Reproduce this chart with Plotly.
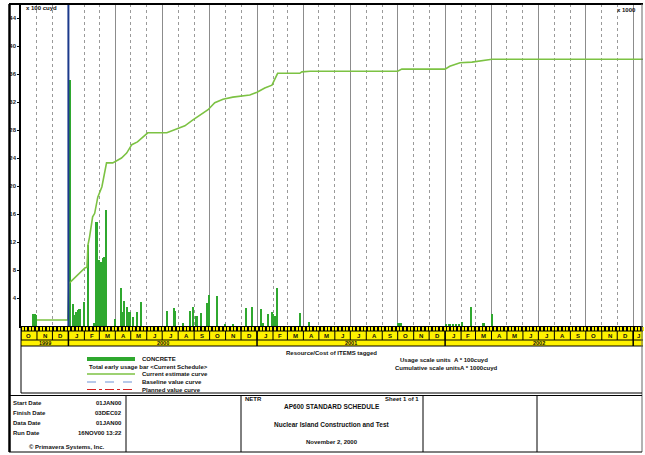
import plotly.graph_objects as go
import pandas as pd

# ---------------- data ----------------
bar_dates = ["1999-10-24", "1999-10-26", "1999-10-28", "1999-10-30",
             "2000-01-05", "2000-01-11", "2000-01-15", "2000-01-17", "2000-01-21", "2000-01-23", "2000-01-31",
             "2000-02-08", "2000-02-21", "2000-02-25", "2000-02-29", "2000-03-04", "2000-03-08", "2000-03-10",
             "2000-03-14", "2000-03-31",
             "2000-04-12", "2000-04-16", "2000-04-19", "2000-04-25", "2000-04-29", "2000-05-05", "2000-05-13",
             "2000-05-22",
             "2000-07-10", "2000-07-25", "2000-07-27", "2000-08-10", "2000-08-24", "2000-08-30", "2000-09-06",
             "2000-09-14", "2000-09-26",
             "2000-10-01", "2000-10-16", "2000-10-31", "2000-11-15", "2000-12-12", "2000-12-22",
             "2001-01-10", "2001-01-14", "2001-01-22", "2001-01-30", "2001-02-01", "2001-02-05", "2001-02-09",
             "2001-03-25", "2001-04-12",
             "2001-10-03", "2001-10-07",
             "2002-01-04", "2002-01-10", "2002-01-16", "2002-01-22", "2002-01-28", "2002-02-03", "2002-02-20",
             "2002-03-17", "2002-04-02"]
bar_values = [1.7, 1.5, 1.7, 1.6,
              35.1, 3.1, 1.6, 2.0, 2.3, 2.4, 3.4,
              11.6, 0.5, 14.9, 9.4, 9.1, 9.7, 9.9, 16.6, 1.0,
              5.4, 2.0, 3.6, 2.7, 2.0, 1.3, 2.0, 3.4,
              2.2, 2.6, 2.2, 0.5, 2.2, 2.7, 1.4, 1.8, 3.3,
              4.4, 4.3, 0.2, 0.3, 2.6, 2.7,
              2.4, 0.4, 1.7, 2.0, 1.7, 1.5, 5.4, 1.9, 0.6,
              0.4, 0.4,
              0.3, 0.3, 0.3, 0.3, 0.3, 0.6, 2.7, 0.5, 1.7]

cum_dates = ["1999-11-01", "1999-12-31", "2000-01-02", "2000-02-02", "2000-02-06", "2000-02-08", "2000-02-11",
             "2000-02-17", "2000-02-21", "2000-02-27", "2000-03-06", "2000-03-11", "2000-03-15", "2000-03-27",
             "2000-04-13", "2000-04-23", "2000-05-03", "2000-05-14", "2000-05-24", "2000-06-03", "2000-07-10",
             "2000-07-29", "2000-08-14", "2000-08-29", "2000-09-12", "2000-09-28", "2000-10-11", "2000-10-27",
             "2000-11-15", "2000-12-18", "2001-01-01", "2001-01-16", "2001-01-30", "2001-02-10", "2001-03-25",
             "2001-03-29", "2001-04-14", "2001-10-01", "2001-10-09", "2002-01-01", "2002-01-10", "2002-01-30",
             "2002-02-22", "2002-04-02", "2003-01-20"]
cum_values = [0.86, 0.86, 6.1, 8.3, 8.4, 11.6, 12.7,
              15.6, 16.1, 18.4, 19.9, 21.9, 23.3, 23.3,
              24.0, 24.7, 25.9, 26.3, 27.0, 27.6, 27.6,
              28.1, 28.6, 29.4, 30.1, 30.9, 31.9, 32.4,
              32.7, 33.0, 33.4, 34.0, 34.4, 36.1, 36.1,
              36.3, 36.4, 36.4, 36.7, 36.7, 37.1, 37.6,
              37.7, 38.1, 38.1]

y_ticks = [4, 8, 12, 16, 20, 24, 28, 32, 36, 40, 44]
month_letters = ["J", "F", "M", "A", "M", "J", "J", "A", "S", "O", "N", "D"]
x_start, x_end = "1999-10-01", "2003-01-20"
data_date = "2000-01-01"

info_labels = ["Start Date", "Finish Date", "Data Date", "Run Date"]
info_values = ["01JAN00", "03DEC02", "01JAN00", "16NOV00 13:22"]
legend_items = ["CONCRETE", "Total early usage bar &lt;Current Schedule&gt;", "Current estimate curve",
                "Baseline value curve", "Planned value curve"]

# ---------------- helpers ----------------
W, H = 645, 455
FONT = "Liberation Sans"


def px(x):
    return x / W


def py(y):
    return 1 - y / H


ann = []
shapes = []


def txt(x, y, s, size=6, anchor="left", color="#111"):
    ann.append(dict(x=px(x), y=py(y), xref="paper", yref="paper", text=s, showarrow=False,
                    xanchor=anchor, yanchor="middle",
                    font=dict(family=FONT, size=size, color=color, weight="bold")))


def hline(x0, x1, y, color="black", width=1, dash="solid"):
    shapes.append(dict(type="line", xref="paper", yref="paper", x0=px(x0), x1=px(x1), y0=py(y), y1=py(y),
                       line=dict(color=color, width=width, dash=dash)))


def vline(x, y0, y1, color="black", width=1):
    shapes.append(dict(type="line", xref="paper", yref="paper", x0=px(x), x1=px(x), y0=py(y0), y1=py(y1),
                       line=dict(color=color, width=width)))


# ---------------- traces ----------------
fig = go.Figure()
fig.add_trace(go.Bar(x=bar_dates, y=bar_values, width=3 * 86400000, marker=dict(color="#2fa82f", line_width=0),
                     xaxis="x", yaxis="y", showlegend=False))
fig.add_trace(go.Scatter(x=cum_dates, y=cum_values, mode="lines", line=dict(color="#7cc243", width=1.6),
                         xaxis="x2", yaxis="y2", showlegend=False))

# ---------------- band (timescale) ----------------
plot_l, plot_r = 21, 643
shapes.append(dict(type="rect", xref="paper", yref="paper", x0=px(plot_l), x1=px(plot_r), y0=py(331), y1=py(326),
                   fillcolor="black", line_width=0, layer="below"))
shapes.append(dict(type="rect", xref="paper", yref="paper", x0=px(plot_l), x1=px(plot_r), y0=py(346), y1=py(331),
                   fillcolor="#fff200", line_width=0, layer="below"))
hline(plot_l, plot_r, 331)
hline(plot_l, plot_r, 340)
hline(plot_l, plot_r, 346)

months = pd.date_range("1999-10-01", "2003-01-01", freq="MS")
end_ts = pd.Timestamp(x_end)
for m in months:
    nxt = m + pd.offsets.MonthBegin(1)
    stop = min(nxt, end_ts)
    mid = m + (stop - m) / 2
    shapes.append(dict(type="line", xref="x", yref="paper", x0=m, x1=m, y0=py(340), y1=py(331),
                       line=dict(color="black", width=1)))
    ann.append(dict(x=mid, y=py(335.7), xref="x", yref="paper", text=month_letters[m.month - 1],
                    showarrow=False, xanchor="center", yanchor="middle",
                    font=dict(family=FONT, size=6, color="#111", weight="bold")))
for yr in [1999, 2000, 2001, 2002]:
    a = max(pd.Timestamp(f"{yr}-01-01"), pd.Timestamp(x_start))
    b = min(pd.Timestamp(f"{yr + 1}-01-01"), end_ts)
    ann.append(dict(x=a + (b - a) / 2, y=py(343.2), xref="x", yref="paper", text=str(yr), showarrow=False,
                    xanchor="center", yanchor="middle",
                    font=dict(family=FONT, size=5.5, color="#111", weight="bold")))
for yr in [2000, 2001, 2002, 2003]:
    d = pd.Timestamp(f"{yr}-01-01")
    shapes.append(dict(type="line", xref="x", yref="paper", x0=d, x1=d, y0=py(346), y1=py(331),
                       line=dict(color="black", width=1.5)))

# data date line
shapes.append(dict(type="line", xref="x", yref="paper", x0=data_date, x1=data_date, y0=py(326), y1=py(4),
                   line=dict(color="#1c3a8c", width=2)))

# ---------------- frames ----------------
vline(9.5, 4, 452, width=2.5)
hline(9, 643, 4, width=2)
vline(642, 4, 452, color="#666", width=1)
vline(21, 326, 393)
hline(21, 642, 393)
hline(9, 642, 395.5)
hline(9, 642, 452)
for xv in [126, 241, 423, 537]:
    vline(xv, 395.5, 452)

# ---------------- texts ----------------
txt(24, 7.5, "x 100 cuyd", size=6)
txt(638, 9.5, "x 1000", size=6, anchor="right")

# legend
shapes.append(dict(type="line", xref="paper", yref="paper", x0=px(87), x1=px(135), y0=py(359), y1=py(359),
                   line=dict(color="#2fa82f", width=4)))
txt(140, 359, legend_items[0])
txt(87, 366.5, legend_items[1])
hline(87, 135, 374, color="#7cc243", width=1.5)
txt(140, 374, legend_items[2])
hline(87, 135, 382, color="#6f93d6", width=1.2, dash="dash")
txt(140, 382, legend_items[3])
hline(87, 135, 389.5, color="#d42020", width=1.2, dash="dashdot")
txt(140, 389.5, legend_items[4])
txt(331, 353, "Resource/Cost of ITEMS tagged", anchor="center")
txt(398, 360, "Usage scale units")
txt(452, 360, "A * 100cuyd")
txt(393, 368, "Cumulative scale units")
txt(458, 368, "A * 1000cuyd")

# title block
for i, (lab, val) in enumerate(zip(info_labels, info_values)):
    yy = 402.5 + i * 10
    txt(11, yy, lab)
    txt(124, yy, val, anchor="right")
txt(66, 447, "© Primavera Systems, Inc.", anchor="center")
txt(243, 398.5, "NETR")
txt(421, 398.5, "Sheet 1 of 1", anchor="right")
txt(332, 406, "AP600 STANDARD SCHEDULE", size=6.5, anchor="center")
txt(332, 424, "Nuclear Island Construction and Test", size=6.5, anchor="center")
txt(332, 442, "November 2, 2000", size=6, anchor="center")

# ---------------- layout ----------------
fig.update_layout(
    width=W, height=H, margin=dict(l=0, r=0, t=0, b=0, pad=0),
    paper_bgcolor="white", plot_bgcolor="white", showlegend=False, bargap=0,
    xaxis=dict(type="date", range=[x_start, x_end], domain=[px(plot_l), px(plot_r)], anchor="y",
               showticklabels=False, ticks="", dtick="M3", tick0="1999-10-01",
               showgrid=True, gridcolor="#8c8c8c", gridwidth=1,
               minor=dict(dtick="M1", tick0="1999-10-01", showgrid=True, gridcolor="#9a9a9a",
                          griddash="dot", gridwidth=1),
               showline=True, linecolor="black", linewidth=2, zeroline=False),
    xaxis2=dict(type="date", range=[x_start, x_end], overlaying="x", matches="x", anchor="y2", side="bottom",
                showticklabels=False, ticks="outside", ticklen=4, tickwidth=1.5, tickcolor="#fff200",
                dtick=7 * 86400000, tick0="1999-10-04", showgrid=False, showline=False, zeroline=False),
    yaxis=dict(range=[0, 46], domain=[py(326), py(4)], anchor="x", tickvals=y_ticks, ticks="outside",
               ticklen=2, tickcolor="black",
               tickfont=dict(family=FONT, size=6, color="#222", weight="bold"),
               showgrid=False, showline=True, linecolor="black", linewidth=1.5, zeroline=False),
    yaxis2=dict(range=[0, 46], overlaying="y", anchor="x2", side="right", showticklabels=False,
                showgrid=False, showline=False, zeroline=False, ticks=""),
    shapes=shapes, annotations=ann,
)

fig.write_html("out.html", config={"displayModeBar": False},
               post_script="document.body.style.margin='0px';")
